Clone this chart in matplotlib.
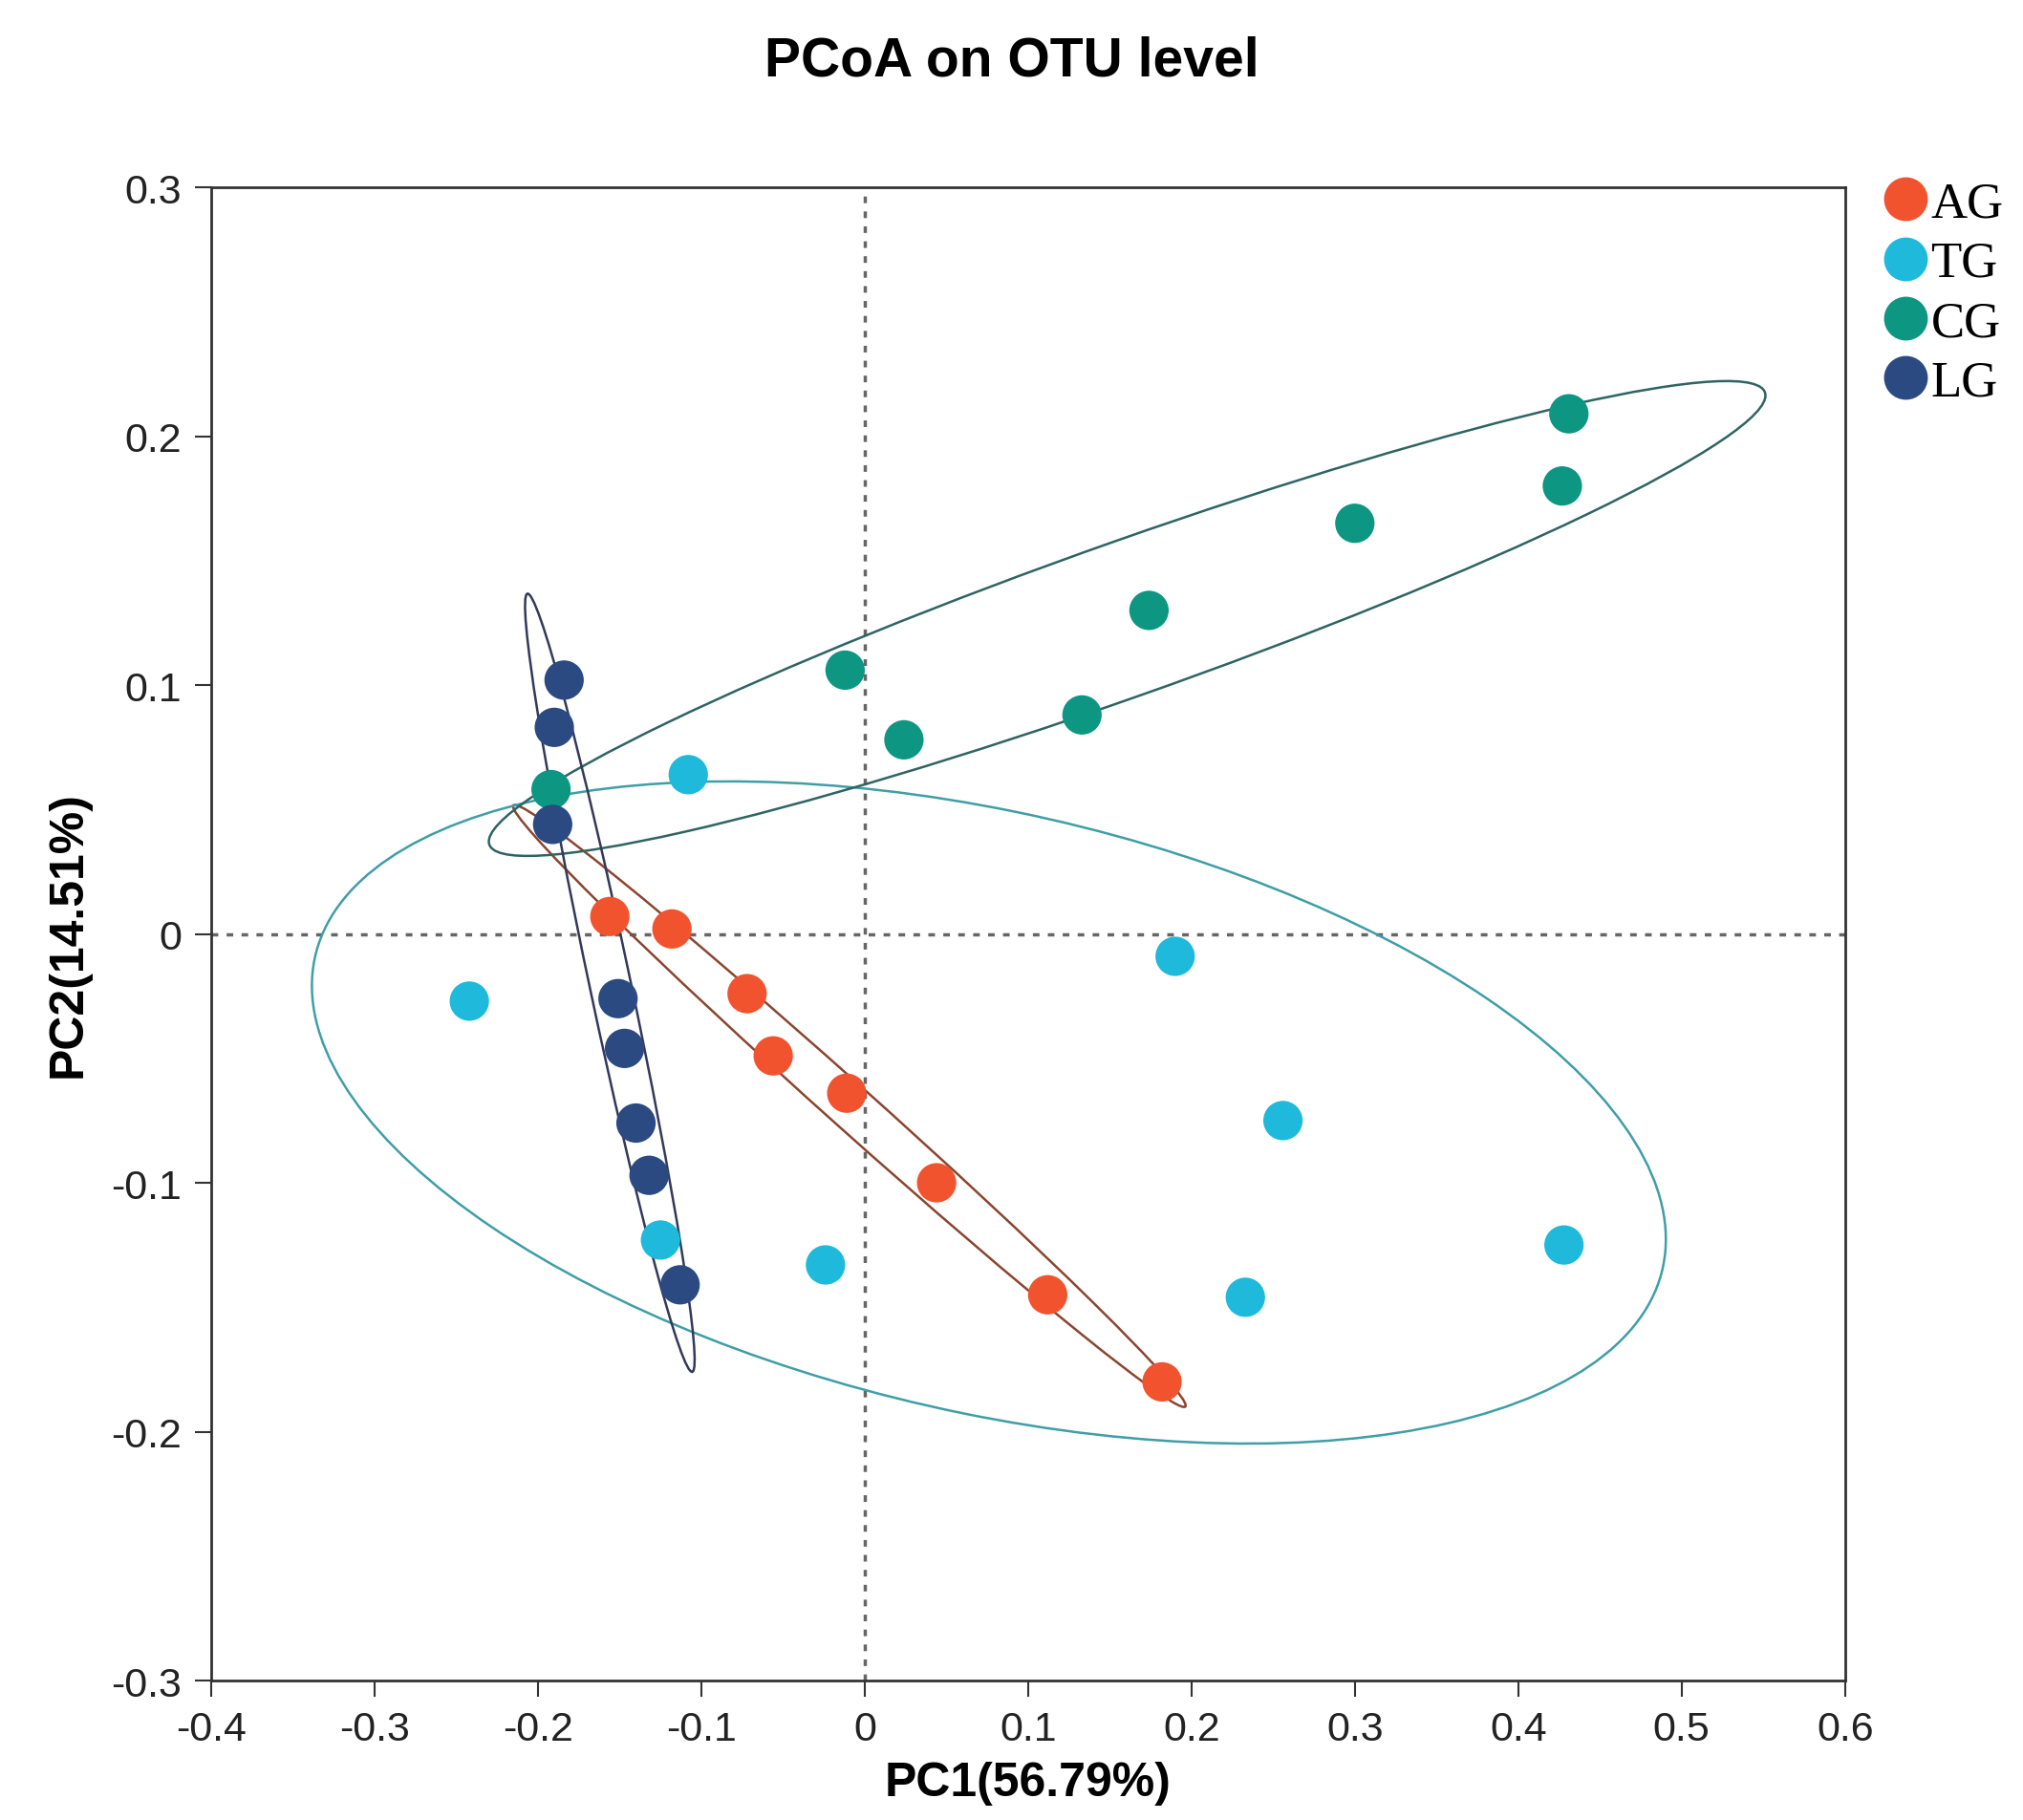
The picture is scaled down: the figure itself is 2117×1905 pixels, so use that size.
import matplotlib
matplotlib.use('agg')
import numpy as np
import matplotlib.pyplot as plt
from matplotlib.patches import Ellipse
from matplotlib.lines import Line2D

# PCoA scores
groups = ['AG', 'TG', 'CG', 'LG']
ag_x = [-0.156, -0.118, -0.072, -0.056, -0.011, 0.044, 0.112, 0.182]
ag_y = [0.007, 0.002, -0.024, -0.049, -0.064, -0.100, -0.145, -0.180]
tg_x = [-0.108, -0.242, -0.125, -0.024, 0.190, 0.256, 0.233, 0.428]
tg_y = [0.064, -0.027, -0.123, -0.133, -0.009, -0.075, -0.146, -0.125]
cg_x = [0.431, 0.427, 0.300, 0.174, -0.012, 0.024, 0.133, -0.192]
cg_y = [0.209, 0.180, 0.165, 0.130, 0.106, 0.078, 0.088, 0.058]
lg_x = [-0.184, -0.190, -0.191, -0.151, -0.147, -0.140, -0.132, -0.113]
lg_y = [0.102, 0.083, 0.044, -0.026, -0.046, -0.076, -0.097, -0.141]

point_colors = ['#f2532f', '#1fb9dc', '#0d9682', '#2b4a82']
ring_colors = ['#8a4530', '#3f9ea6', '#2e6462', '#33395a']
xs = [ag_x, tg_x, cg_x, lg_x]
ys = [ag_y, tg_y, cg_y, lg_y]


# covariance ellipse around one group
def conf_ellipse(x, y, ax, n_std, color):
    x = np.asarray(x)
    y = np.asarray(y)
    cov = np.cov(x, y)
    vals, vecs = np.linalg.eigh(cov)
    order = vals.argsort()[::-1]
    vals, vecs = vals[order], vecs[:, order]
    angle = np.degrees(np.arctan2(vecs[1, 0], vecs[0, 0]))
    w, h = 2 * n_std * np.sqrt(vals)
    e = Ellipse((x.mean(), y.mean()), w, h, angle=angle, fill=False,
                edgecolor=color, lw=1.8, zorder=2)
    ax.add_patch(e)


fig = plt.figure(figsize=(21.17, 19.06), dpi=100)
ax = fig.add_axes([0.1044, 0.0766, 0.8076, 0.82])

ax.axvline(0, color='#666666', lw=2.5, ls=(0, (2, 2.5)), zorder=1)
ax.axhline(0, color='#666666', lw=2.5, ls=(0, (2, 2.5)), zorder=1)

for x, y, c, rc in zip(xs, ys, point_colors, ring_colors):
    conf_ellipse(x, y, ax, 1.78, rc)
    ax.scatter(x, y, s=880, color=c, edgecolors='none', zorder=3)

ax.set_xlim(-0.4, 0.6)
ax.set_ylim(-0.3, 0.3)
ax.set_xticks(np.arange(-0.4, 0.61, 0.1))
ax.set_yticks(np.arange(-0.3, 0.31, 0.1))
ax.set_xticklabels(['-0.4', '-0.3', '-0.2', '-0.1', '0', '0.1', '0.2', '0.3', '0.4', '0.5', '0.6'])
ax.set_yticklabels(['-0.3', '-0.2', '-0.1', '0', '0.1', '0.2', '0.3'])

for lab in ax.get_xticklabels() + ax.get_yticklabels():
    lab.set_family('Liberation Sans')
    lab.set_fontsize(31)
    lab.set_color('#222222')
ax.tick_params(length=12, width=1.5, color='#333333', pad=10)
for sp in ax.spines.values():
    sp.set_linewidth(2)
    sp.set_color('#333333')

ax.set_xlabel('PC1(56.79%)', fontsize=36, fontweight='bold', family='Liberation Sans', labelpad=10)
ax.set_ylabel('PC2(14.51%)', fontsize=36, fontweight='bold', family='Liberation Sans', labelpad=16)
fig.text(0.5, 0.966, 'PCoA on OTU level', fontsize=41, fontweight='bold',
         family='Liberation Sans', ha='center', va='center')

handles = [Line2D([], [], marker='o', ls='none', markersize=32, color=c) for c in point_colors]
leg = fig.legend(handles, groups, loc='upper left', bbox_to_anchor=(0.917, 0.911),
                 frameon=False, prop={'family': 'Liberation Serif', 'size': 38},
                 handletextpad=-0.1, labelspacing=0.27, borderaxespad=0, handlelength=1.2)

fig.savefig('out.png', dpi=100)
